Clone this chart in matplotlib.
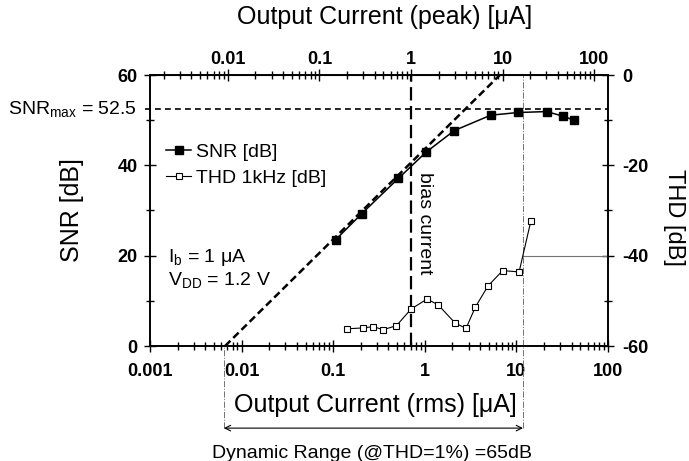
import numpy as np
import matplotlib
matplotlib.use("Agg")
import matplotlib.pyplot as plt
from matplotlib.ticker import (MultipleLocator, FuncFormatter, NullFormatter,
                               FixedLocator, LogLocator)

plt.rcParams["font.family"] = ["Liberation Sans", "DejaVu Sans"]
plt.rcParams["mathtext.fontset"] = "custom"
plt.rcParams["mathtext.rm"] = "Liberation Sans"
plt.rcParams["mathtext.it"] = "Liberation Sans:italic"
plt.rcParams["mathtext.bf"] = "Liberation Sans:bold"
plt.rcParams["axes.unicode_minus"] = False

# SNR measurements (rms current in uA, SNR in dB)
rms_snr = [0.106, 0.205, 0.514, 1.03, 2.10, 5.24, 10.5, 21.4, 32.0, 42.5]
snr_db = [23.5, 29.3, 37.1, 42.9, 47.7, 51.1, 51.7, 51.9, 50.9, 50.0]

# THD at 1 kHz
rms_thd = [0.14, 0.21, 0.275, 0.35, 0.49, 0.71, 1.06, 1.40, 2.14, 2.82,
           3.56, 4.90, 7.08, 10.7, 14.4]
thd_db = [-56.2, -56.0, -55.7, -56.4, -55.5, -51.8, -49.6, -50.9, -54.9,
          -56.1, -51.4, -46.7, -43.3, -43.6, -32.3]

# ideal 20 dB/decade line
ideal_x = [0.0066, 6.6]
ideal_snr = [0, 60]

peak_ticks = [0.01, 0.1, 1, 10, 100]
snr_max = 52.5
bias_peak = 1.0
peak_factor = np.sqrt(2)
dr_lo = 0.0064   # SNR = 0
dr_hi = 11.8     # THD = 1 %
thd_limit = -40

fig = plt.figure(figsize=(6.89, 4.61), dpi=100)
ax = fig.add_axes([150 / 689, 115 / 461, 458 / 689, 271 / 461])
ax2 = ax.twinx()

ax.set_xscale("log")
ax.set_xlim(0.001, 100)
ax.set_ylim(0, 60)
ax2.set_ylim(-60, 0)

# curves
l1, = ax.plot(rms_snr, snr_db, "-s", color="black", lw=1.1, ms=6,
              label="SNR [dB]", zorder=5)
l2, = ax2.plot(rms_thd, thd_db, "-s", color="black", mfc="white", lw=0.8,
               ms=3.8, mew=0.8, label="THD 1kHz [dB]", zorder=5)
ax.plot(ideal_x, ideal_snr, color="black", lw=1.8, dashes=(3, 1.6))
ax.plot([-0.012, 1.0], [snr_max, snr_max], transform=ax.get_yaxis_transform(),
        color="black", lw=1.2, dashes=(3.5, 2.5), clip_on=False)
ax.axvline(bias_peak / peak_factor, color="black", lw=1.6, dashes=(6, 2.5))
ax.text(1.0, 38.5, "bias current", rotation=-90, ha="center", va="top",
        fontsize=14)

# dynamic range markers
xt = ax.get_xaxis_transform()
ax.plot([dr_hi, dr_hi], [-0.303, 1.0], transform=xt, clip_on=False,
        color="0.45", lw=0.7, ls="-.")
ax.plot([dr_lo, dr_lo], [-0.303, 0.0], transform=xt, clip_on=False,
        color="0.45", lw=0.7, ls="-.")
ax.annotate("", xy=(dr_hi, -0.303), xycoords=xt, xytext=(dr_lo, -0.303),
            textcoords=xt, annotation_clip=False,
            arrowprops=dict(arrowstyle="<->", color="black", lw=0.8,
                            shrinkA=0, shrinkB=0, mutation_scale=10))
ax2.plot([dr_hi, 100], [thd_limit, thd_limit], color="0.45", lw=0.8)
fig.text(372 / 689, 8 / 461, "Dynamic Range (@THD=1%) =65dB", ha="center",
         va="center", fontsize=14)

# annotations
ax.text(-0.028, snr_max, r"SNR$_{\mathregular{max}}$ = 52.5", ha="right",
        va="center", fontsize=14, transform=ax.get_yaxis_transform())
ax.text(0.039, 0.325, r"I$_{\mathregular{b}}$ = 1 μA", ha="left",
        va="center", fontsize=14, transform=ax.transAxes)
ax.text(0.039, 0.244, r"V$_{\mathregular{DD}}$ = 1.2 V", ha="left",
        va="center", fontsize=14, transform=ax.transAxes)

ax2.legend(handles=[l1, l2], loc="upper left", bbox_to_anchor=(0.035, 0.748),
           frameon=False, fontsize=14, handlelength=1.3, handletextpad=0.25,
           labelspacing=0.45, borderpad=0, borderaxespad=0)

# axes styling
fmt = FuncFormatter(lambda v, p: f"{v:g}")
ax.xaxis.set_major_formatter(fmt)
ax.xaxis.set_minor_formatter(NullFormatter())
ax.yaxis.set_major_locator(MultipleLocator(20))
ax.yaxis.set_minor_locator(MultipleLocator(10))
ax2.yaxis.set_major_locator(MultipleLocator(20))
ax2.yaxis.set_minor_locator(MultipleLocator(10))

secax = ax.secondary_xaxis("top", functions=(lambda x: x * peak_factor,
                                             lambda x: x / peak_factor))
secax.xaxis.set_major_locator(FixedLocator(peak_ticks))
secax.xaxis.set_minor_locator(LogLocator(base=10, subs=np.arange(2, 10)))
secax.xaxis.set_major_formatter(fmt)
secax.xaxis.set_minor_formatter(NullFormatter())

for a in (ax, ax2):
    for s in a.spines.values():
        s.set_linewidth(1.2)
ax.tick_params(which="both", direction="inout", top=False, right=False,
               width=1.0, labelsize=13)
ax.tick_params(which="major", length=8, pad=5)
ax.tick_params(axis="x", which="major", pad=8)
ax.tick_params(which="minor", length=6)
ax2.tick_params(which="both", direction="inout", width=1.0, labelsize=13)
ax2.tick_params(which="major", length=8, pad=6)
ax2.tick_params(which="minor", length=6)
secax.tick_params(which="both", direction="inout", width=1.0, labelsize=13)
secax.tick_params(which="major", length=8, pad=1)
secax.tick_params(which="minor", length=6)
for lab in (ax.get_xticklabels() + ax.get_yticklabels() +
            ax2.get_yticklabels() + secax.get_xticklabels()):
    lab.set_fontweight("bold")

ax.set_xlabel("Output Current (rms) [μA]", fontsize=18)
ax.xaxis.set_label_coords(0.491, -0.218)
ax.xaxis.label.set_va("center")
ax.set_ylabel("SNR [dB]", fontsize=18)
ax.yaxis.set_label_coords(-0.170, 0.502)
ax.yaxis.label.set_va("center")
ax2.set_ylabel("THD [dB]", fontsize=17, rotation=-90)
ax2.yaxis.set_label_coords(1.145, 0.476)
ax2.yaxis.label.set_va("center")
fig.text(385 / 689, 1 - 17 / 461, "Output Current (peak) [μA]", ha="center",
         va="center", fontsize=18)

fig.savefig("out.png", dpi=100, facecolor="white")
